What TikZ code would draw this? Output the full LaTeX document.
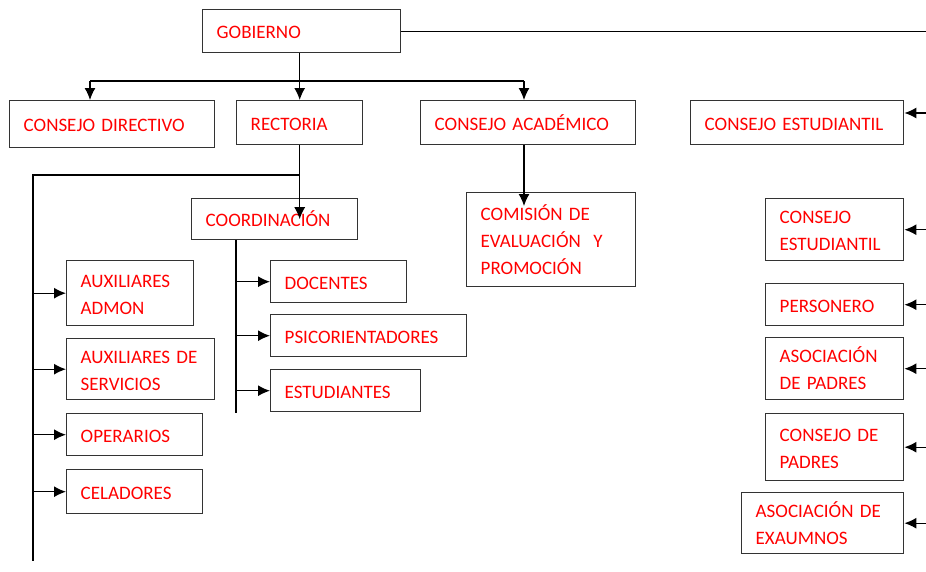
\documentclass[tikz,border=0pt]{standalone}
\usepackage{fontspec}
\setmainfont{Carlito}
\usetikzlibrary{arrows.meta, calc}

\newcommand{\boxstrut}{\rule[-1pt]{0pt}{17.2pt}}

\tikzset{
    box/.style = {draw = black!80, line width = 1.4pt, anchor = north west, inner xsep = 14pt, inner ysep = 0pt,
        align = left, text = red, font = {\fontsize{19}{27}\selectfont},
        execute at begin node = \boxstrut, execute at end node = \boxstrut},
    arr/.style = {-{Latex[length = 12pt, width = 11pt]}}
}

\begin{document}
\begin{tikzpicture}[x = 1pt, y = -1pt, line width = 1.3pt]

            \useasboundingbox (0, 0) rectangle (926, 571);

            \node (gob) at (202, 9) [box, text width = 170pt, minimum height = 43pt] {GOBIERNO};

            \node (cdir) at (9, 100) [box, text width = 177pt, minimum height = 47pt] {CONSEJO~DIRECTIVO};
            \node (rect) at (236, 100) [box, text width = 98pt, minimum height = 44pt] {RECTORIA};
            \node (cacad) at (420, 100) [box, text width = 187pt, minimum height = 44pt] {CONSEJO~ACADÉMICO};
            \node (cest) at (690, 100) [box, text width = 185pt, minimum height = 44pt] {CONSEJO~ESTUDIANTIL};

            \node (coord) at (191, 198) [box, text width = 138pt, minimum height = 41pt] {COORDINACIÓN};
            \node (comis) at (466, 192) [box, text width = 141pt, minimum height = 94pt] {COMISIÓN~DE\\EVALUACIÓN~~Y\\PROMOCIÓN};

            \node (auxadm) at (66, 260) [box, text width = 99pt, minimum height = 65pt] {AUXILIARES\\ADMON};
            \node (auxserv) at (66, 338) [box, text width = 120pt, minimum height = 61pt] {AUXILIARES~DE\\SERVICIOS};
            \node (oper) at (66, 413) [box, text width = 108pt, minimum height = 42pt] {OPERARIOS};
            \node (celad) at (66, 469) [box, text width = 108pt, minimum height = 44pt] {CELADORES};

            \node (doc) at (270, 260) [box, text width = 108pt, minimum height = 42pt] {DOCENTES};
            \node (psico) at (270, 314) [box, text width = 168pt, minimum height = 42pt] {PSICORIENTADORES};
            \node (estud) at (270, 369) [box, text width = 122pt, minimum height = 42pt] {ESTUDIANTES};

            \node (cest2) at (765, 198) [box, text width = 110pt, minimum height = 62pt] {CONSEJO\\ESTUDIANTIL};
            \node (pers) at (765, 283) [box, text width = 110pt, minimum height = 42pt] {PERSONERO};
            \node (asopad) at (765, 337) [box, text width = 110pt, minimum height = 62pt] {ASOCIACIÓN\\DE~PADRES};
            \node (conpad) at (765, 413) [box, text width = 110pt, minimum height = 67pt] {CONSEJO~DE\\PADRES};
            \node (asoexa) at (741, 492) [box, text width = 134pt, minimum height = 61pt] {ASOCIACIÓN~DE\\EXAUMNOS};

            \coordinate (edge) at (926, 0);
            \coordinate (bl) at (90, 81);
            \coordinate (br) at (524, 81);
            \coordinate (lb) at (33, 175);
            \coordinate (lbend) at (33, 561);
            \coordinate (cb) at (236, 413);
            \coordinate (e1) at (926, 113);

            \draw (gob.east) -- (gob.east -| edge);
            \draw[arr] (gob.south -| rect.north) -- (rect.north);
            \draw (bl) -- (br);
            \draw[arr] (bl) -- (bl |- cdir.north);
            \draw[arr] (br) -- (br |- cacad.north);
            \draw[arr] (e1) -- (e1 -| cest.east);

            \draw[arr] (br |- cacad.south) -- ($(br |- comis.north) + (0, 14)$);

            \draw[arr] (rect.south) -- (rect.south |- coord.center);
            \draw (rect.south |- lb) -- (lb) -- (lbend);
            \draw[arr] (lb |- auxadm.west) -- (auxadm.west);
            \draw[arr] (lb |- auxserv.west) -- (auxserv.west);
            \draw[arr] (lb |- oper.west) -- (oper.west);
            \draw[arr] (lb |- celad.west) -- (celad.west);

            \draw (cb |- coord.south) -- (cb);
            \draw[arr] (cb |- doc.west) -- (doc.west);
            \draw[arr] (cb |- psico.west) -- (psico.west);
            \draw[arr] (cb |- estud.west) -- (estud.west);

            \draw[arr] (edge |- cest2.east) -- (cest2.east);
            \draw[arr] (edge |- pers.east) -- (pers.east);
            \draw[arr] (edge |- asopad.east) -- (asopad.east);
            \draw[arr] (edge |- conpad.east) -- (conpad.east);
            \draw[arr] (edge |- asoexa.east) -- (asoexa.east);
        \end{tikzpicture}
\end{document}
